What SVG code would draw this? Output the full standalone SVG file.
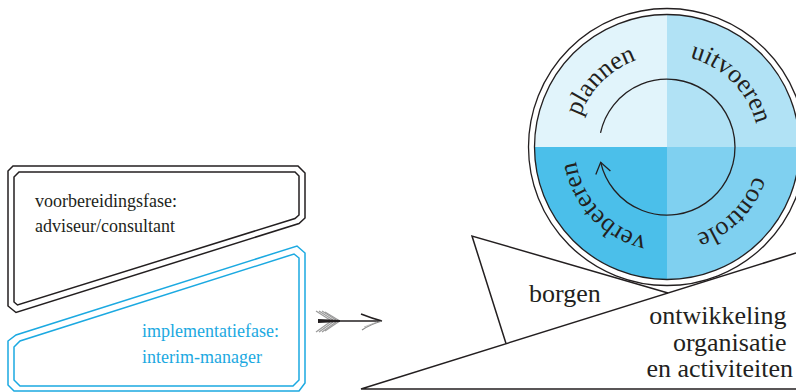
<svg xmlns="http://www.w3.org/2000/svg" width="796" height="392" viewBox="0 0 796 392">
<defs>
<style>
.txt{font-family:"Liberation Serif","Times New Roman",serif;fill:#231f20}
.blue{font-family:"Liberation Serif","Times New Roman",serif;fill:#1ba9e1}
.ln{fill:none;stroke:#231f20;stroke-width:1.5}
.bl{fill:none;stroke:#1ba9e1;stroke-width:1.5}
.ring{fill:none;stroke:#231f20;stroke-width:1.3}
</style>
<path id="lblpath" d="M 575,147 A 92,92 0 1 1 759,147 A 92,92 0 1 1 575,147"/>
</defs>
<rect width="796" height="392" fill="#ffffff"/>

<g id="voorbereiding">
<path class="ln" d="M 13,166 L 298,166 L 305,173 L 305,218 L 299,223.5 L 16,312.5 L 8,306 L 8,171 Z"/>
<path class="ln" d="M 19,172 L 295,172 L 299,176 L 299,215 L 295,218.5 L 17.5,305 L 14,302 L 14,177 Z"/>
<text class="txt" x="35" y="207" font-size="18">voorbereidingsfase:</text>
<text class="txt" x="35" y="232" font-size="18">adviseur/consultant</text>
</g>

<g id="implementatie">
<path class="bl" d="M 8,341 L 16,335 L 297,246 L 305,253 L 305,383 L 299,391 L 14,391 L 8,385 Z"/>
<path class="bl" d="M 14,347 L 20,341 L 294,254 L 299,258 L 299,380 L 293,386 L 20,386 L 14,380 Z"/>
<text class="blue" x="142" y="337" font-size="18">implementatiefase:</text>
<text class="blue" x="142" y="363" font-size="18">interim-manager</text>
</g>

<g id="pijl">
<g stroke="#9a9a9a" stroke-width="1.2" fill="none">
<path d="M 316,311 L 330,320"/>
<path d="M 319,311 L 333,320"/>
<path d="M 322,311 L 336,320"/>
<path d="M 325,312 L 339,320.5"/>
<path d="M 316,332 L 330,322"/>
<path d="M 319,332 L 333,322"/>
<path d="M 322,332 L 336,322"/>
<path d="M 325,331 L 339,321.5"/>
</g>
<path d="M 318,319 L 340,320 L 340,322 L 318,323 Z" fill="#231f20"/>
<path d="M 340,321 L 382,321" stroke="#231f20" stroke-width="1.5" fill="none"/>
<path d="M 382,321 Q 371,318 361,314" stroke="#231f20" stroke-width="1.5" fill="none"/>
<path d="M 382,321 Q 371,324 362,330" stroke="#8a8a8a" stroke-width="1.2" fill="none"/>
<path d="M 377,322 L 364,327" stroke="#aaaaaa" stroke-width="0.8" fill="none"/>
</g>

<g id="wig">
<path class="ln" d="M 796,389 L 361,389 L 796,253"/>
</g>

<g id="borgen">
<path class="ln" d="M 506,343.5 L 472,236 L 668,293"/>
<text class="txt" x="529" y="302" font-size="26">borgen</text>
</g>

<g id="ontwikkeling">
<text class="txt" font-size="26" text-anchor="end">
<tspan x="793" y="324">ontwikkeling</tspan>
<tspan x="793" y="350.5">organisatie</tspan>
<tspan x="793" y="377">en activiteiten</tspan>
</text>
</g>

<g id="pdca">
<circle cx="667" cy="147" r="138.5" fill="#ffffff" stroke="#231f20" stroke-width="1.3"/>
<path d="M667,147 L534.5,147 A132.5,132.5 0 0 1 667,14.5 Z" fill="#e1f4fb"/>
<path d="M667,147 L667,14.5 A132.5,132.5 0 0 1 799.5,147 Z" fill="#b1e2f5"/>
<path d="M667,147 L799.5,147 A132.5,132.5 0 0 1 667,279.5 Z" fill="#7fd0f0"/>
<path d="M667,147 L667,279.5 A132.5,132.5 0 0 1 534.5,147 Z" fill="#4bbfea"/>
<circle class="ring" cx="667" cy="147" r="132.5"/>
<path d="M 600.5,132.9 A 68,68 0 1 1 600.7,162.3" fill="none" stroke="#231f20" stroke-width="1.3"/>
<path d="M 595.8,174.4 L 600.7,162.3 L 610.4,171" fill="none" stroke="#231f20" stroke-width="1.3"/>
<text class="txt" font-size="26"><textPath href="#lblpath" startOffset="12.5%" text-anchor="middle">plannen</textPath></text>
<text class="txt" font-size="26"><textPath href="#lblpath" startOffset="37.5%" text-anchor="middle">uitvoeren</textPath></text>
<text class="txt" font-size="26"><textPath href="#lblpath" startOffset="62.5%" text-anchor="middle">controle</textPath></text>
<text class="txt" font-size="26"><textPath href="#lblpath" startOffset="88%" text-anchor="middle">verbeteren</textPath></text>
</g>
</svg>
